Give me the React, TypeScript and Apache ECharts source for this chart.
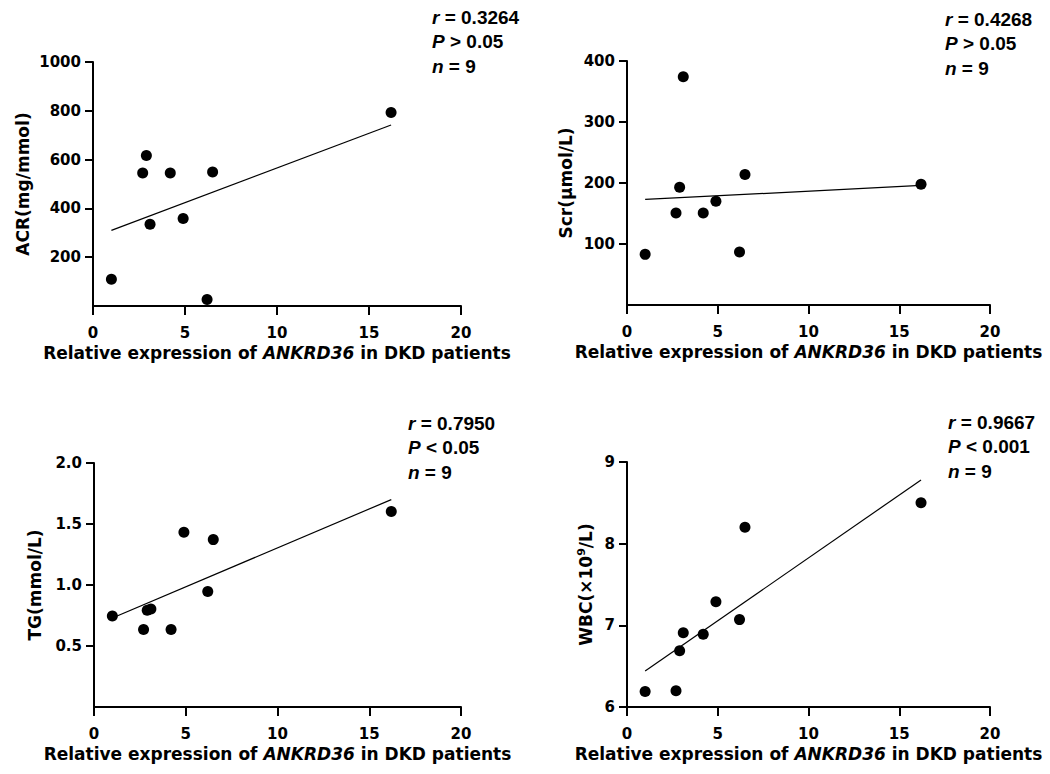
import React, { useEffect, useRef } from "react";
import * as echarts from "echarts";

// Relative expression of ANKRD36 (x) for the 9 DKD patients
const expression = [1.0, 2.7, 2.9, 3.1, 4.2, 4.9, 6.2, 6.5, 16.2];
// Clinical parameters (y)
const acr = [110, 545, 617, 335, 545, 359, 27, 549, 793];
const scr = [83, 151, 193, 374, 151, 170, 87, 214, 198];
const tg = [0.745, 0.636, 0.793, 0.804, 0.636, 1.432, 0.946, 1.372, 1.603];
const wbc = [6.19, 6.2, 6.69, 6.91, 6.89, 7.29, 7.07, 8.2, 8.5];

// Regression line end points (x at min/max expression)
const fitX = [1.0, 16.2];
const acrFit = [310, 742];
const scrFit = [173, 196];
const tgFit = [0.73, 1.7];
const wbcFit = [6.44, 8.78];

// Statistics annotations
const rValues = ["0.3264", "0.4268", "0.7950", "0.9667"];
const pTexts = ["> 0.05", "> 0.05", "< 0.05", "< 0.001"];
const nValue = "9";

// Axis settings
const xTicks = { min: 0, max: 20, interval: 5 };
const yRanges = [
  { min: 0, max: 1000, interval: 200, showMin: false },
  { min: 0, max: 400, interval: 100, showMin: false },
  { min: 0, max: 2, interval: 0.5, showMin: false },
  { min: 6, max: 9, interval: 1, showMin: true },
];
const yNames = [
  "ACR(mg/mmol)",
  "Scr(μmol/L)",
  "TG(mmol/L)",
  "WBC(×10{sup|9}/L)",
];
const xName = "Relative expression of {it|ANKRD36} in DKD patients";

const LABEL_FONT = "DejaVu Sans";
const ANN_FONT = "Liberation Sans";

export default function App() {
  const ref = useRef<HTMLDivElement>(null);

  useEffect(() => {
    if (!ref.current) return;
    const chart = echarts.init(ref.current, undefined, { renderer: "svg" });

    const grids = [
      { left: 93, top: 62, width: 368, height: 244 },
      { left: 627, top: 61, width: 363, height: 244 },
      { left: 94, top: 463, width: 367, height: 244 },
      { left: 627, top: 462, width: 363, height: 245 },
    ];
    const yNameGaps = [60, 51, 49, 31];

    const ys = [acr, scr, tg, wbc];
    const fits = [acrFit, scrFit, tgFit, wbcFit];

    const xAxes = grids.map((_, i) => ({
      type: "value",
      gridIndex: i,
      min: xTicks.min,
      max: xTicks.max,
      interval: xTicks.interval,
      splitLine: { show: false },
      axisLine: { show: true, lineStyle: { color: "#000", width: 2 } },
      axisTick: { show: true, length: 9, lineStyle: { color: "#000", width: 2 } },
      axisLabel: {
        color: "#000",
        fontFamily: LABEL_FONT,
        fontWeight: "bold",
        fontSize: 15,
        margin: 19,
      },
      name: xName,
      nameLocation: "middle",
      nameGap: 38,
      nameTextStyle: {
        color: "#000",
        fontFamily: LABEL_FONT,
        fontWeight: "bold",
        fontSize: 17,
        rich: {
          it: {
            color: "#000",
            fontFamily: LABEL_FONT,
            fontWeight: "bold",
            fontStyle: "italic",
            fontSize: 17,
          },
        },
      },
    }));

    const yAxes = grids.map((_, i) => ({
      type: "value",
      gridIndex: i,
      min: yRanges[i].min,
      max: yRanges[i].max,
      interval: yRanges[i].interval,
      splitLine: { show: false },
      axisLine: { show: true, lineStyle: { color: "#000", width: 2 } },
      axisTick: { show: true, length: 8, lineStyle: { color: "#000", width: 2 } },
      axisLabel: {
        color: "#000",
        fontFamily: LABEL_FONT,
        fontWeight: "bold",
        fontSize: 15,
        margin: 12,
        showMinLabel: yRanges[i].showMin,
        formatter: (v: number) => (i === 2 ? v.toFixed(1) : String(v)),
      },
      name: yNames[i],
      nameLocation: "middle",
      nameGap: yNameGaps[i],
      nameTextStyle: {
        color: "#000",
        fontFamily: LABEL_FONT,
        fontWeight: "bold",
        fontSize: 17,
        lineHeight: 20,
        rich: {
          sup: {
            color: "#000",
            fontFamily: LABEL_FONT,
            fontWeight: "bold",
            fontSize: 11,
            lineHeight: 11,
            verticalAlign: "bottom",
            padding: [0, 0, 9, 0],
          },
        },
      },
    }));

    const series: any[] = [];
    ys.forEach((yv, i) => {
      series.push({
        type: "line",
        xAxisIndex: i,
        yAxisIndex: i,
        data: fitX.map((x, k) => [x, fits[i][k]]),
        symbol: "none",
        lineStyle: { color: "#000", width: 1.2 },
        silent: true,
      });
      series.push({
        type: "scatter",
        xAxisIndex: i,
        yAxisIndex: i,
        data: expression.map((x, k) => [x, yv[k]]),
        symbol: "circle",
        symbolSize: 11,
        itemStyle: { color: "#000", opacity: 1 },
      });
    });

    const annPos = [
      { x: 432, y: 17 },
      { x: 945, y: 19 },
      { x: 408, y: 423 },
      { x: 948, y: 422 },
    ];
    const annLines = (i: number) => [
      `{i|r} = ${rValues[i]}`,
      `{i|P} ${pTexts[i]}`,
      `{i|n} = ${nValue}`,
    ];
    const graphic: any[] = [];
    annPos.forEach((p, i) => {
      annLines(i).forEach((t, k) => {
        graphic.push({
          type: "text",
          x: p.x,
          y: p.y + k * 24.5,
          silent: true,
          style: {
            text: t,
            fill: "#000",
            fontFamily: ANN_FONT,
            fontWeight: "bold",
            fontSize: 19,
            align: "left",
            verticalAlign: "middle",
            rich: {
              i: {
                fill: "#000",
                fontFamily: ANN_FONT,
                fontWeight: "bold",
                fontStyle: "italic",
                fontSize: 19,
              },
            },
          },
        });
      });
    });

    chart.setOption({
      animation: false,
      backgroundColor: "#fff",
      grid: grids.map((g) => ({ ...g, containLabel: false })),
      xAxis: xAxes,
      yAxis: yAxes,
      series,
      graphic,
    });

    return () => chart.dispose();
  }, []);

  return (
    <div
      ref={ref}
      style={{ position: "fixed", left: 0, top: 0, width: 1050, height: 774 }}
    />
  );
}
